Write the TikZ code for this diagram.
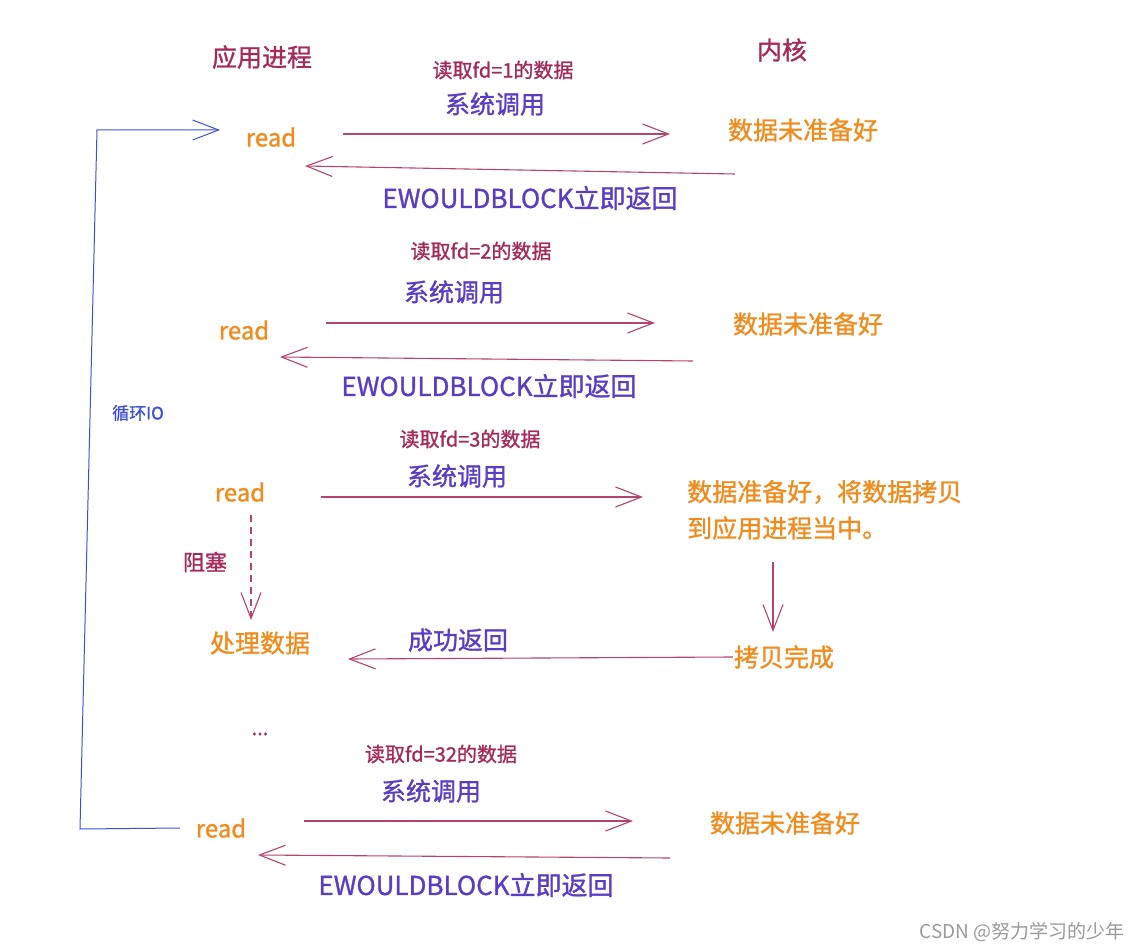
\documentclass[tikz,border=0pt]{standalone}
\usepackage{fontspec}
\setmainfont{Noto Sans CJK SC}[FakeBold=1.2]
\newfontfamily\markfont{Noto Sans CJK SC}
\usetikzlibrary{arrows.meta}
\definecolor{procred}{HTML}{A52A5A}
\definecolor{kernorange}{HTML}{F08C1E}
\definecolor{callviolet}{HTML}{5B3CC4}
\definecolor{arrowpink}{HTML}{B5436F}
\definecolor{loopblue}{HTML}{3D4FD6}
\begin{document}
\begin{tikzpicture}[
  x=1pt, y=-1pt,
  every node/.style={inner sep=1pt},
  title/.style={text=procred, font=\fontsize{25}{28}\selectfont},
  fdlabel/.style={text=procred, font=\fontsize{20}{22}\selectfont},
  syscall/.style={text=callviolet, font=\fontsize{25}{28}\selectfont},
  readlbl/.style={text=kernorange, font=\fontsize{24}{26}\selectfont},
  state/.style={text=kernorange, font=\fontsize{25}{28}\selectfont},
  ret/.style={text=callviolet, font=\fontsize{26}{28}\selectfont},
  flow/.style={draw=arrowpink, line width=1.1pt, -{Straight Barb[length=26pt,width=20pt,line width=1.1pt]}},
  loopline/.style={draw=loopblue, line width=1pt}
]
\useasboundingbox (0,0) rectangle (1144,952);

% ------------------------------------------------------------
% Column headings
% ------------------------------------------------------------
\node[title] (app) at (262,57) {应用进程};
\node[title] (kern) at (782,50) {内核};

% ------------------------------------------------------------
% fd=1 : not ready, returns at once
% ------------------------------------------------------------
\node[fdlabel] (fd1) at (503,70) {读取fd=1的数据};
\node[syscall] (sc1) at (495,104) {系统调用};
\node[readlbl] (rd1) at (271,137) {read};
\node[state] (st1) at (803,130) {数据未准备好};
\node[ret] (rt1) at (530,198) {EWOULDBLOCK立即返回};
\coordinate (a1s) at (343,134); \coordinate (a1e) at (670,134);
\coordinate (b1s) at (735,174); \coordinate (b1e) at (305,166);
\draw[flow] (a1s) -- (a1e);
\draw[flow] (b1s) -- (b1e);

% ------------------------------------------------------------
% fd=2 : not ready, returns at once
% ------------------------------------------------------------
\node[fdlabel] (fd2) at (481,251) {读取fd=2的数据};
\node[syscall] (sc2) at (454,292) {系统调用};
\node[readlbl] (rd2) at (244,330) {read};
\node[state] (st2) at (808,324) {数据未准备好};
\node[ret] (rt2) at (489,386) {EWOULDBLOCK立即返回};
\coordinate (a2s) at (326,323); \coordinate (a2e) at (655,323);
\coordinate (b2s) at (693,361); \coordinate (b2e) at (280,357);
\draw[flow] (a2s) -- (a2e);
\draw[flow] (b2s) -- (b2e);

% ------------------------------------------------------------
% fd=3 : ready, data copied, process blocks meanwhile
% ------------------------------------------------------------
\node[fdlabel] (fd3) at (470,439) {读取fd=3的数据};
\node[syscall] (sc3) at (457,476) {系统调用};
\node[readlbl] (rd3) at (240,492) {read};
\node[state, anchor=west] (st3a) at (686,492) {数据准备好，将数据拷贝};
\node[state, anchor=west] (st3b) at (686,528) {到应用进程当中。};
\node[state] (done) at (784,657) {拷贝完成};
\node[state] (handle) at (260,643) {处理数据};
\node[fdlabel, font=\fontsize{22}{24}\selectfont] (block) at (205,562) {阻塞};
\node[syscall] (ok) at (458,640) {成功返回};
\coordinate (a3s) at (321,497); \coordinate (a3e) at (643,497);
\coordinate (c3s) at (773,562); \coordinate (c3e) at (773,632);
\coordinate (d3s) at (251,515); \coordinate (d3e) at (251,620);
\draw[flow] (a3s) -- (a3e);
\draw[flow] (c3s) -- (c3e);
\draw[flow] (done.west) -- (348,659);
\draw[flow, dash pattern=on 7pt off 5pt] (d3s) -- (d3e);

\node[text=procred, font=\fontsize{20}{22}\selectfont] (dots) at (260,734) {...};

% ------------------------------------------------------------
% fd=32 : not ready, returns at once
% ------------------------------------------------------------
\node[fdlabel] (fd32) at (441,754) {读取fd=32的数据};
\node[syscall] (sc32) at (431,791) {系统调用};
\node[readlbl] (rd32) at (221,828) {read};
\node[state] (st32) at (785,823) {数据未准备好};
\node[ret] (rt32) at (466,885) {EWOULDBLOCK立即返回};
\coordinate (a4s) at (304,821); \coordinate (a4e) at (633,821);
\coordinate (b4s) at (670,858); \coordinate (b4e) at (258,855);
\draw[flow] (a4s) -- (a4e);
\draw[flow] (b4s) -- (b4e);

% ------------------------------------------------------------
% Polling loop back to the first read
% ------------------------------------------------------------
\coordinate (lp0) at (180,828);
\coordinate (lp1) at (80,829);
\coordinate (lp2) at (97,130);
\coordinate (lp3) at (220,130);
\draw[loopline, -{Straight Barb[length=26pt,width=20pt,line width=1pt]}] (lp0) -- (lp1) -- (lp2) -- (lp3);
\node[text=loopblue, font=\fontsize{17}{19}\selectfont] (loop) at (138,413) {循环IO};

% watermark
\node[text=gray!80, font=\markfont\fontsize{19}{21}\selectfont] (mark) at (1022,932) {CSDN @努力学习的少年};
\end{tikzpicture}
\end{document}
